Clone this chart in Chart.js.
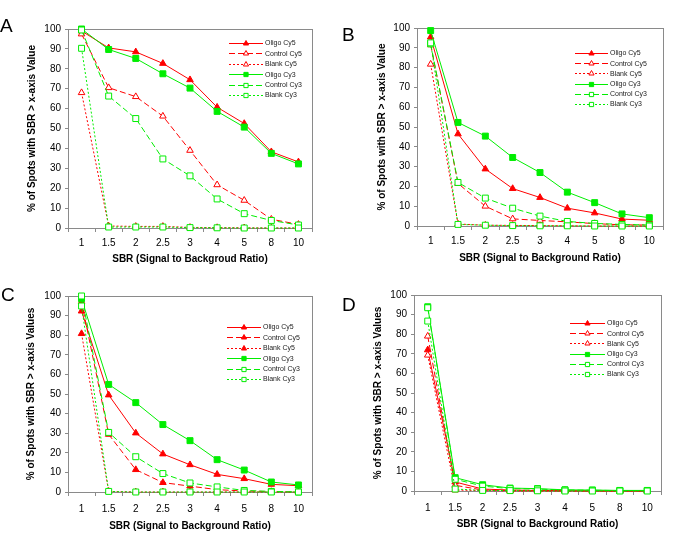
<!DOCTYPE html>
<html>
<head>
<meta charset="utf-8">
<script src="https://cdn.jsdelivr.net/npm/chart.js@4/dist/chart.umd.min.js"></script>
<style>
  html, body { margin: 0; padding: 0; background: #fff; }
  #wrap { position: relative; width: 685px; height: 544px; overflow: hidden; }
  canvas { position: absolute; }
  .lbl { position: absolute; font-family: "Liberation Sans", Arial, sans-serif; font-size: 19px; color: #000; line-height: 1; }
</style>
</head>
<body>
<div id="wrap">
  <canvas id="cA" width="342" height="272" style="left:0;top:0"></canvas>
  <canvas id="cB" width="343" height="272" style="left:342px;top:0"></canvas>
  <canvas id="cC" width="342" height="272" style="left:0;top:272px"></canvas>
  <canvas id="cD" width="343" height="272" style="left:342px;top:272px"></canvas>
  <div class="lbl" style="left:0px;top:16px">A</div>
  <div class="lbl" style="left:342px;top:25px">B</div>
  <div class="lbl" style="left:1px;top:285px">C</div>
  <div class="lbl" style="left:342px;top:295px">D</div>
</div>
<script>
// ---- data ----
const sbrLabels = ['1', '1.5', '2', '2.5', '3', '4', '5', '8', '10'];
const seriesNames = ['Oligo Cy5', 'Control Cy5', 'Blank Cy5', 'Oligo Cy3', 'Control Cy3', 'Blank Cy3'];
const yTicks = [0, 10, 20, 30, 40, 50, 60, 70, 80, 90, 100];

// Panel A
const aOligoCy5   = [99, 90.5, 88.5, 82.7, 74.5, 60.7, 52.5, 38.3, 33.2];
const aControlCy5 = [97.5, 70.5, 66, 56.2, 39, 21.7, 13.9, 4.4, 1.8];
const aBlankCy5   = [68, 1, 0.8, 0.8, 0.3, 0.2, 0.1, 0, 0];
const aOligoCy3   = [100, 89.7, 85.2, 77.5, 70.3, 58.6, 50.7, 37.5, 32.2];
const aControlCy3 = [99.5, 66.3, 55, 34.7, 26.2, 14.6, 7.2, 3.8, 1.5];
const aBlankCy3   = [90.3, 0.5, 0.5, 0.5, 0.2, 0.1, 0, 0, 0];

// Panel B
const bOligoCy5   = [95.4, 46.5, 28.8, 18.9, 14.4, 9, 6.6, 3.5, 2.9];
const bControlCy5 = [91.5, 21.5, 10, 3.6, 2.8, 2.1, 1.2, 0.6, 0.5];
const bBlankCy5   = [81.7, 1, 0.4, 0.3, 0.2, 0.1, 0, 0, 0];
const bOligoCy3   = [98.7, 52.3, 45.4, 34.6, 27, 17.1, 11.8, 6.1, 4.2];
const bControlCy3 = [92, 22, 14.1, 9, 5, 2.3, 1.3, 0.8, 0.5];
const bBlankCy3   = [92.5, 0.8, 0.4, 0.2, 0.1, 0.1, 0, 0, 0];

// Panel C
const cOligoCy5   = [92.3, 49.5, 30.1, 19.4, 13.9, 9, 6.8, 3.9, 3.2];
const cControlCy5 = [97, 29.4, 11.4, 4.8, 3, 1.2, 0.5, 0.2, 0];
const cBlankCy5   = [80.8, 0.3, 0, 0, 0, 0, 0, 0, 0];
const cOligoCy3   = [98.6, 54.9, 45.6, 34.4, 26.2, 16.5, 11.2, 5.1, 3.6];
const cControlCy3 = [100, 30.4, 18, 9.4, 4.6, 2.6, 0.8, 0.3, 0];
const cBlankCy3   = [94.9, 0.3, 0, 0, 0, 0, 0, 0, 0];

// Panel D
const dOligoCy5   = [72, 4.6, 1, 0.5, 0.3, 0.2, 0.1, 0, 0];
const dControlCy5 = [79, 2.9, 0.5, 0.2, 0.1, 0, 0, 0, 0];
const dBlankCy5   = [69.3, 0.5, 0.2, 0, 0, 0, 0, 0, 0];
const dOligoCy3   = [94, 6.8, 3.2, 1.5, 1.2, 0.6, 0.5, 0.3, 0.3];
const dControlCy3 = [93.5, 6, 2.5, 1.2, 1, 0.5, 0.4, 0.2, 0.2];
const dBlankCy3   = [86.7, 1, 0.3, 0.2, 0.1, 0, 0, 0, 0];

// ---- styles ----
const RED = '#ff0000', GREEN = '#00ee00';
const FONT = '"Liberation Sans", Arial, sans-serif';
const AXIS = '#8a8a8a';
const DASHES = [[], [6, 3], [2, 2]];

function styleFor(i, filledMask) {
  const isCy5 = i < 3;
  const color = isCy5 ? RED : GREEN;
  const filled = filledMask[i];
  return {
    color, dash: DASHES[i % 3], shape: isCy5 ? 'triangle' : 'rect', filled
  };
}

function drawMarker(ctx, shape, x, y, r, color, filled) {
  ctx.save();
  ctx.setLineDash([]);
  ctx.beginPath();
  if (shape === 'triangle') {
    for (let k = 0; k < 3; k++) {
      const a = k * 2 * Math.PI / 3;
      const px = x + Math.sin(a) * r, py = y - Math.cos(a) * r;
      if (k === 0) ctx.moveTo(px, py); else ctx.lineTo(px, py);
    }
    ctx.closePath();
  } else {
    const h = r * Math.SQRT1_2;
    ctx.rect(x - h, y - h, 2 * h, 2 * h);
  }
  ctx.fillStyle = filled ? color : '#ffffff';
  ctx.fill();
  ctx.strokeStyle = color;
  ctx.lineWidth = 1;
  ctx.stroke();
  ctx.restore();
}

const boxPlugin = {
  id: 'boxPlugin',
  beforeDatasetsDraw(chart) {
    const a = chart.chartArea, ctx = chart.ctx;
    ctx.save();
    ctx.strokeStyle = AXIS;
    ctx.lineWidth = 1;
    ctx.strokeRect(Math.round(a.left) + 0.5, Math.round(a.top) + 0.5,
      Math.round(a.right - a.left), Math.round(a.bottom - a.top));
    ctx.restore();
  },
  afterDatasetsDraw(chart) {
    const o = chart.options.plugins.boxPlugin;
    if (!o) return;
    const ctx = chart.ctx;
    chart.data.datasets.forEach((ds, i) => {
      const y = o.y + i * o.step;
      ctx.save();
      ctx.strokeStyle = ds.borderColor;
      ctx.lineWidth = 1;
      ctx.setLineDash(ds.borderDash || []);
      ctx.beginPath();
      ctx.moveTo(o.x0, Math.round(y) + 0.5);
      ctx.lineTo(o.x1, Math.round(y) + 0.5);
      ctx.stroke();
      ctx.restore();
      drawMarker(ctx, ds.pointStyle, (o.x0 + o.x1) / 2, Math.round(y) + 0.5, 3,
        ds.borderColor, ds.pointBackgroundColor !== '#ffffff');
      ctx.save();
      ctx.fillStyle = '#222';
      ctx.font = '7px ' + FONT;
      ctx.textBaseline = 'middle';
      ctx.textAlign = 'left';
      ctx.fillText(ds.label, o.x1 + 2, y + 0.5);
      ctx.restore();
    });
  }
};

function makePanel(id, series, filledMask, p) {
  const datasets = series.map((vals, i) => {
    const s = styleFor(i, filledMask);
    return {
      label: seriesNames[i],
      data: vals,
      borderColor: s.color,
      borderWidth: 1,
      borderDash: s.dash,
      pointStyle: s.shape,
      pointRadius: s.shape === 'rect' ? 4.2 : 3.8,
      pointBorderWidth: 1,
      pointBorderColor: s.color,
      pointBackgroundColor: s.filled ? s.color : '#ffffff',
      tension: 0,
      fill: false,
      clip: false,
      order: 5 - i
    };
  });
  new Chart(document.getElementById(id), {
    type: 'line',
    data: { labels: sbrLabels, datasets },
    options: {
      responsive: false,
      animation: false,
      devicePixelRatio: 1,
      layout: { padding: { left: 0, top: p.top, right: p.right, bottom: 0 } },
      plugins: {
        legend: { display: false },
        tooltip: { enabled: false },
        boxPlugin: p.legend
      },
      scales: {
        x: {
          type: 'category',
          offset: true,
          grid: { display: true, offset: true, drawOnChartArea: false, drawTicks: true, tickLength: 4, color: AXIS },
          border: { display: true, color: AXIS },
          ticks: { color: '#000', font: { family: FONT, size: 10 }, padding: p.xTickPad, maxRotation: 0, autoSkip: false },
          title: { display: true, text: p.xTitle, color: '#000', font: { family: FONT, size: 10, weight: 'bold' }, padding: { top: 0, bottom: p.xTitlePad } },
          afterFit(scale) { scale.height = p.xH; }
        },
        y: {
          min: 0, max: 100,
          afterBuildTicks(scale) { scale.ticks = yTicks.map(v => ({ value: v })); },
          grid: { display: true, drawOnChartArea: false, drawTicks: true, tickLength: 3, color: AXIS },
          border: { display: true, color: AXIS },
          ticks: { color: '#000', font: { family: FONT, size: 10 }, padding: 4 },
          title: { display: true, text: p.yTitle, color: '#000', font: { family: FONT, size: 10, weight: 'bold' }, padding: { top: p.yTitlePad, bottom: 0 } },
          afterFit(scale) { scale.width = p.yW; }
        }
      }
    },
    plugins: [boxPlugin]
  });
}

makePanel('cA',
  [aOligoCy5, aControlCy5, aBlankCy5, aOligoCy3, aControlCy3, aBlankCy3],
  [true, false, false, true, false, false],
  { top: 29, right: 30, xH: 44, yW: 68, xTickPad: 5, xTitlePad: 7, yTitlePad: 26,
    xTitle: 'SBR (Signal to Backgroud Ratio)', yTitle: '% of Spots with SBR > x-axis Value',
    legend: { x0: 229, x1: 263, y: 43, step: 10.4 } });

makePanel('cB',
  [bOligoCy5, bControlCy5, bBlankCy5, bOligoCy3, bControlCy3, bBlankCy3],
  [true, false, false, true, false, false],
  { top: 28, right: 22, xH: 46, yW: 75, xTickPad: 5, xTitlePad: 8, yTitlePad: 34,
    xTitle: 'SBR (Signal to Background Ratio)', yTitle: '% of Spots with SBR > x-axis Value',
    legend: { x0: 233, x1: 266, y: 53, step: 10.2 } });

makePanel('cC',
  [cOligoCy5, cControlCy5, cBlankCy5, cOligoCy3, cControlCy3, cBlankCy3],
  [true, true, true, true, false, false],
  { top: 24, right: 30, xH: 52, yW: 68, xTickPad: 7, xTitlePad: 12, yTitlePad: 25,
    xTitle: 'SBR (Signal to Background Ratio)', yTitle: '% of Spots with SBR > x-axis Values',
    legend: { x0: 227, x1: 261, y: 55, step: 10.4 } });

makePanel('cD',
  [dOligoCy5, dControlCy5, dBlankCy5, dOligoCy3, dControlCy3, dBlankCy3],
  [true, false, false, true, false, false],
  { top: 23, right: 24, xH: 53, yW: 72, xTickPad: 7, xTitlePad: 14, yTitlePad: 30,
    xTitle: 'SBR (Signal to Background Ratio)', yTitle: '% of Spots with SBR > x-axis Values',
    legend: { x0: 228, x1: 263, y: 51, step: 10.2 } });
</script>
</body>
</html>
